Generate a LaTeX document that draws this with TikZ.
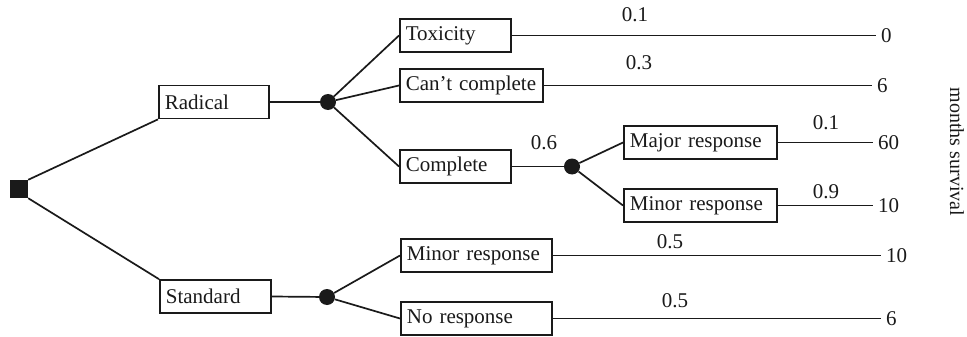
\documentclass[tikz,border=0pt]{standalone}
\usepackage{fontspec}
\setmainfont{Liberation Serif}
\definecolor{treeInk}{HTML}{1A1A1A}

\begin{document}
\begin{tikzpicture}[x=1pt,y=-1pt,text=treeInk,
  font=\fontsize{21}{24}\selectfont,
  branchbox/.style={draw=treeInk,line width=1.7pt,rectangle,minimum height=33pt,
    inner xsep=6pt,inner ysep=0pt,align=left,anchor=west},
  decision/.style={rectangle,fill=treeInk,inner sep=0pt,minimum size=18pt},
  chance/.style={circle,fill=treeInk,inner sep=0pt,minimum size=16pt},
  problabel/.style={inner sep=0pt},
  payoff/.style={anchor=west,inner xsep=5pt,inner ysep=0pt},
  branch/.style={draw=treeInk,line width=1.7pt}]
  \fill[white] (0,0) rectangle (967,337);
  \path[use as bounding box] (0,0) rectangle (967,337);

  % decision and chance points
  \node[decision] (dec) at (19,189) {};
  \node[chance] (c1) at (328,102) {};
  \node[chance] (c2) at (572,166.5) {};
  \node[chance] (c3) at (327,297) {};

  \foreach \n/\x/\y/\w/\t in {rad/158/102/98/Radical,std/159/296.5/99/Standard,
      tox/399/35.5/99/Toxicity,cant/399/85.5/131/Can't~complete,comp/399/166.5/99/Complete,
      maj/623/142.5/141/Major~response,mnr/623/205.5/141/Minor~response,
      smnr/400/255.5/139/Minor~response,nresp/400/318.5/139/No~response}
    {\node[branchbox,text width=\w pt] (\n) at (\x,\y) {\t};}

  % outcomes in months
  \foreach \n/\x/\y/\t in {v1/876/35.5/0,v2/872/85.5/6,v3/873/142.5/60,v4/873/205.5/10,
      v5/881/255.5/10,v6/881/318.5/6}
    {\node[payoff] (\n) at (\x,\y) {\t};}

  \foreach \u/\v in {dec.north east/rad.south west,dec.south east/std.north west,
      rad.east/c1,c1/tox.west,c1/cant.west,c1/comp.west,comp.east/c2,c2/maj.west,c2/mnr.west,
      std.east/c3,c3/smnr.west,c3/nresp.west,
      tox.east/v1.west,cant.east/v2.west,maj.east/v3.west,mnr.east/v4.west,
      smnr.east/v5.west,nresp.east/v6.west}
    {\draw[branch] (\u)--(\v);}

  \foreach \n/\x/\y/\t in {p1/635/15/0.1,p2/639/63/0.3,p3/544/143/0.6,p4/826/123/0.1,
      p5/826/192/0.9,p6/670/242/0.5,p7/675/301/0.5}
    {\node[problabel] (\n) at (\x,\y) {\t};}

  \node[rotate=-90,inner sep=0pt,font=\fontsize{20}{24}\selectfont] (unit) at (957,152) {months survival};
\end{tikzpicture}
\end{document}
